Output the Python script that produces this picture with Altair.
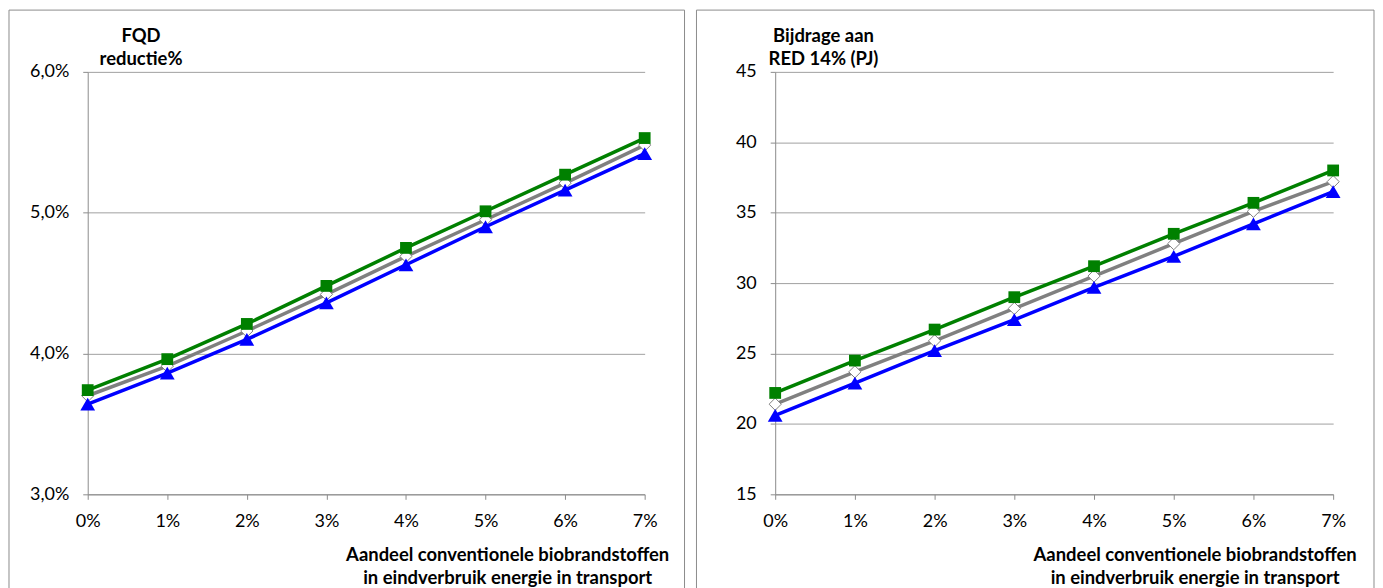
import altair as alt
import pandas as pd

# ---- data ----
x_pct = [0, 1, 2, 3, 4, 5, 6, 7]

fqd_green = [3.74, 3.96, 4.21, 4.48, 4.75, 5.01, 5.27, 5.53]
fqd_grey = [3.70, 3.91, 4.16, 4.42, 4.69, 4.95, 5.21, 5.48]
fqd_blue = [3.64, 3.86, 4.10, 4.36, 4.63, 4.90, 5.16, 5.42]

red_green = [22.2, 24.5, 26.7, 29.0, 31.2, 33.5, 35.7, 38.0]
red_grey = [21.4, 23.7, 25.9, 28.2, 30.5, 32.8, 35.1, 37.2]
red_blue = [20.6, 22.9, 25.2, 27.4, 29.7, 31.9, 34.2, 36.5]

fqd_ticks = [3, 4, 5, 6]
red_ticks = [15, 20, 25, 30, 35, 40, 45]

x_title = ["Aandeel conventionele biobrandstoffen", "in eindverbruik energie in transport"]
fqd_title = ["FQD", "reductie%"]
red_title = ["Bijdrage aan", "RED 14% (PJ)"]

series_names = ["grey", "blue", "green"]  # drawing order

FONT = "Lato"
AX = "#8c8c8c"

styles = {
    "grey": dict(color="#808080", shape="diamond", fill="white", stroke="#808080", size=150, sw=1),
    "blue": dict(color="#0000ff", shape="triangle-up", fill="#0000ff", stroke="#0000ff", size=220, sw=0),
    "green": dict(color="#008000", shape="square", fill="#008000", stroke="#008000", size=140, sw=0),
}


def panel(series, domain, ticks, label_expr, ytitle, ytitle_x, width, frame_x2):
    rows = []
    for name, vals in series.items():
        for xv, yv in zip(x_pct, vals):
            rows.append({"x": xv, "y": yv, "series": name})
    df = pd.DataFrame(rows)
    base = alt.Chart(df)

    x = alt.X(
        "x:Q",
        scale=alt.Scale(domain=[0, 7], nice=False, zero=False),
        axis=alt.Axis(
            values=x_pct, labelExpr="datum.value + '%'", grid=False,
            labelFlush=False,
            title=x_title, titleX=421, titleY=60, titleAlign="center",
            titleBaseline="middle", titleLineHeight=24,
            tickSize=5, labelPadding=13,
        ),
    )
    y = alt.Y(
        "y:Q",
        scale=alt.Scale(domain=domain, nice=False, zero=False),
        axis=alt.Axis(
            values=ticks, labelExpr=label_expr, grid=True,
            labelFlush=False,
            title=ytitle, titleAngle=0, titleX=ytitle_x, titleY=-36,
            titleAlign="center", titleBaseline="middle", titleLineHeight=23,
            tickSize=5, labelPadding=14,
        ),
    )

    frame = alt.Chart(pd.DataFrame({"a": [0]})).mark_rect(
        fill="transparent", stroke=AX, strokeWidth=1
    ).encode(
        x=alt.value(-79), x2=alt.value(frame_x2),
        y=alt.value(-62), y2=alt.value(540),
    )

    layers = [frame]
    for name in series_names:
        st = styles[name]
        sub = base.transform_filter(alt.datum.series == name)
        layers.append(sub.mark_line(color=st["color"], strokeWidth=3.5).encode(x=x, y=y))
        layers.append(
            sub.mark_point(
                shape=st["shape"], filled=True, fill=st["fill"], stroke=st["stroke"],
                strokeWidth=st["sw"], size=st["size"], opacity=1, fillOpacity=1,
            ).encode(x=x, y=y)
        )
    return alt.layer(*layers).properties(width=width, height=424)


left = panel(
    {"grey": fqd_grey, "blue": fqd_blue, "green": fqd_green},
    [3, 6], fqd_ticks,
    "replace(format(datum.value, '.1f'), '.', ',') + '%'",
    fqd_title, 53, 559, 599,
)
right = panel(
    {"grey": red_grey, "blue": red_blue, "green": red_green},
    [15, 45], red_ticks,
    "format(datum.value, 'd')",
    red_title, 48, 560, 601,
)

chart = alt.hconcat(left, right, spacing=10).properties(padding=0).configure_view(
    strokeWidth=0
).configure_axis(
    labelFont=FONT, labelFontSize=18, labelColor="#000000",
    titleFont=FONT, titleFontSize=18.5, titleFontWeight="bold", titleColor="#000000",
    domainColor=AX, tickColor=AX, gridColor="#a0a0a0", domainWidth=1, gridWidth=1,
)

chart.save("out.html", embed_options={"renderer": "svg", "actions": False})
